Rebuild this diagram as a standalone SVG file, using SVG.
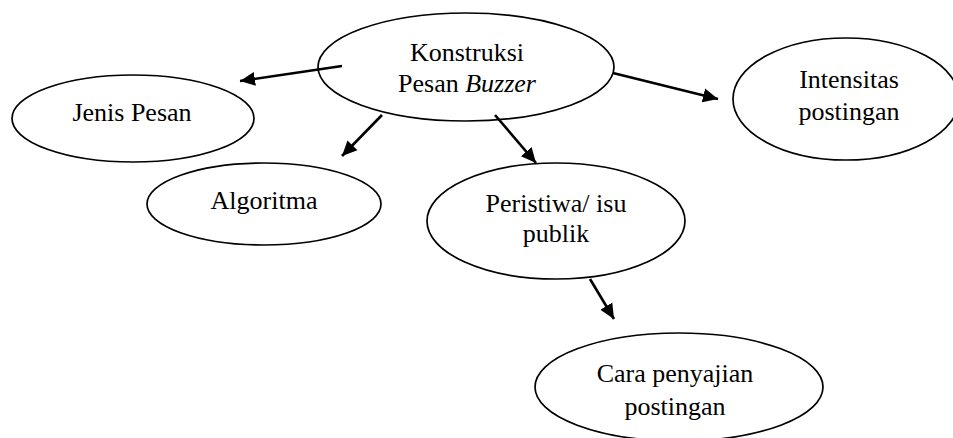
<svg xmlns="http://www.w3.org/2000/svg" width="953" height="438" viewBox="0 0 953 438">
<style>
.n ellipse{fill:#fff;stroke:#000;stroke-width:1.7}
.t{font-family:"Liberation Serif","Times New Roman",serif;font-size:26px;fill:#000;text-anchor:middle}
.c line{stroke:#000;stroke-width:2.6;marker-end:url(#ah)}
</style>
<defs>
<marker id="ah" markerUnits="userSpaceOnUse" markerWidth="16" markerHeight="15" refX="15" refY="7" orient="auto" viewBox="0 0 16 14">
<path d="M0,0 L15,7 L0,14 z" fill="#000"/>
</marker>
</defs>
<rect width="953" height="438" fill="#fff"/>
<g id="n-konstruksi" class="n">
<ellipse cx="466" cy="67" rx="148" ry="54"/>
<text class="t" x="467" y="61">Konstruksi</text>
<text class="t" x="467" y="92">Pesan <tspan font-style="italic">Buzzer</tspan></text>
</g>
<g id="n-jenis" class="n">
<ellipse cx="133" cy="118.5" rx="121" ry="43.5"/>
<text class="t" x="132" y="121">Jenis Pesan</text>
</g>
<g id="n-algoritma" class="n">
<ellipse cx="264" cy="204" rx="117" ry="41"/>
<text class="t" x="264" y="209">Algoritma</text>
</g>
<g id="n-peristiwa" class="n">
<ellipse cx="556" cy="221" rx="129" ry="58"/>
<text class="t" x="556" y="212">Peristiwa/ isu</text>
<text class="t" x="556" y="242">publik</text>
</g>
<g id="n-cara" class="n">
<ellipse cx="679" cy="387" rx="144" ry="54"/>
<text class="t" x="675" y="382">Cara penyajian</text>
<text class="t" x="675" y="415">postingan</text>
</g>
<g id="n-intensitas" class="n">
<ellipse cx="846" cy="99" rx="113" ry="61"/>
<text class="t" x="849" y="88">Intensitas</text>
<text class="t" x="849" y="120">postingan</text>
</g>
<g id="connectors" class="c">
<line x1="342" y1="66" x2="240" y2="81"/>
<line x1="382" y1="115" x2="342" y2="156"/>
<line x1="495" y1="115" x2="536" y2="163"/>
<line x1="590" y1="279" x2="614" y2="319"/>
<line x1="613" y1="73" x2="718" y2="99"/>
</g>
</svg>
